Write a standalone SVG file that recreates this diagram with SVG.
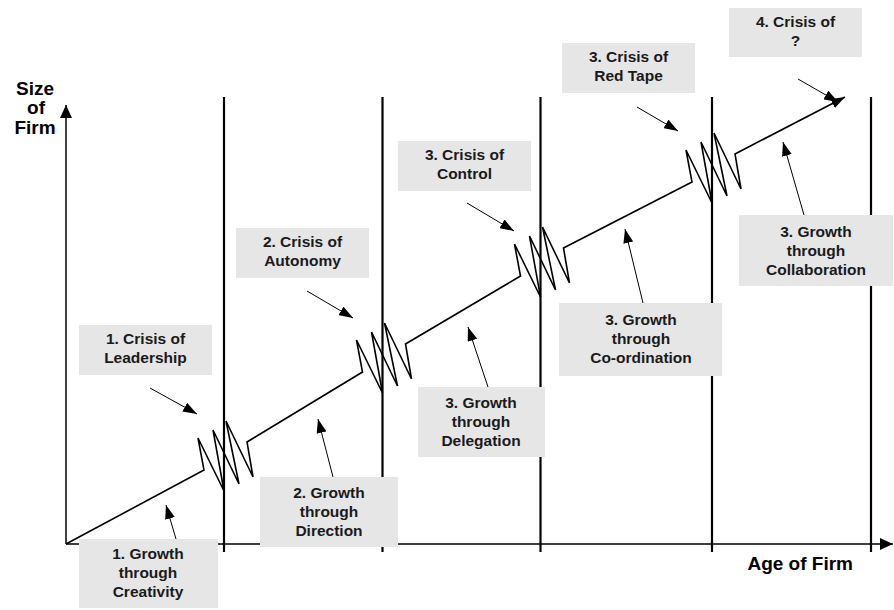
<svg xmlns="http://www.w3.org/2000/svg" width="894" height="610" viewBox="0 0 894 610">
<style>
.box{fill:#e6e6e7;stroke:none}
.lbl{font-family:"Liberation Sans",Arial,sans-serif;font-weight:bold;font-size:15.5px;fill:#1a1a1a;text-anchor:middle}
.ax{font-family:"Liberation Sans",Arial,sans-serif;font-weight:bold;font-size:19px;fill:#000}
.vline{stroke:#000;stroke-width:2.2;fill:none}
.growth{stroke:#000;stroke-width:1.6;fill:none;stroke-linejoin:miter}
.arr{stroke:#000;stroke-width:1;fill:none;marker-end:url(#head)}
.axis{stroke:#000;stroke-width:1.5;fill:none}
</style>
<defs>
<marker id="head" viewBox="0 0 14 10" refX="14" refY="5" markerWidth="14" markerHeight="10" markerUnits="userSpaceOnUse" orient="auto">
<path d="M0,0 L14,5 L0,10 z" fill="#000"/>
</marker>
<marker id="axhead" viewBox="0 0 13 12" refX="13" refY="6" markerWidth="13" markerHeight="12" markerUnits="userSpaceOnUse" orient="auto">
<path d="M0,0 L13,6 L0,12 z" fill="#000"/>
</marker>
</defs>
<rect width="894" height="610" fill="#fff"/>
<g id="axes">
<line class="axis" x1="66" y1="544" x2="66" y2="105" marker-end="url(#axhead)"/>
<line class="axis" x1="66" y1="544" x2="893" y2="544" marker-end="url(#axhead)"/>
<text class="ax" x="35" y="95" text-anchor="middle">Size</text>
<text class="ax" x="36" y="114" text-anchor="middle">of</text>
<text class="ax" x="35" y="134" text-anchor="middle">Firm</text>
<text class="ax" x="853" y="570" text-anchor="end">Age of Firm</text>
</g>
<g id="stage-lines">
<line class="vline" x1="224" y1="97" x2="224" y2="552"/>
<line class="vline" x1="382.5" y1="97" x2="382.5" y2="552"/>
<line class="vline" x1="540.5" y1="97" x2="540.5" y2="552"/>
<line class="vline" x1="712" y1="97" x2="712" y2="552"/>
<line class="vline" x1="871" y1="97" x2="871" y2="552"/>
</g>
<g id="connectors">
<path class="growth" marker-end="url(#head)" d="M66,544 L204,470 L198,438 L224,491 L213,430 L239,484 L226,421 L253,477 L247,442 L362.5,372 L356.5,340 L382.5,393 L371.5,332 L397.5,386 L384.5,323 L411.5,379 L405.5,344 L520.5,276 L514.5,244 L540.5,297 L529.5,236 L555.5,290 L542.5,227 L569.5,283 L563.5,248 L692,182 L686,150 L712,203 L701,142 L727,196 L714,133 L741,189 L735,154 L845,97"/>
<line class="arr" x1="150" y1="388" x2="197" y2="414"/>
<line class="arr" x1="307" y1="291" x2="353" y2="318"/>
<line class="arr" x1="467" y1="203" x2="514" y2="231"/>
<line class="arr" x1="637" y1="107" x2="678" y2="131"/>
<line class="arr" x1="798" y1="79" x2="838" y2="102"/>
<line class="arr" x1="176" y1="539" x2="166" y2="505"/>
<line class="arr" x1="333" y1="477" x2="318" y2="419"/>
<line class="arr" x1="488" y1="387" x2="468" y2="327"/>
<line class="arr" x1="643" y1="303" x2="625" y2="229"/>
<line class="arr" x1="804" y1="215" x2="783" y2="142"/>
</g>
<g id="crisis1">
<rect class="box" x="79" y="325" width="133" height="50"/>
<text class="lbl" x="145.5" y="344">1. Crisis of</text>
<text class="lbl" x="145.5" y="363">Leadership</text>
</g>
<g id="crisis2">
<rect class="box" x="236" y="228" width="133" height="50"/>
<text class="lbl" x="302.5" y="247">2. Crisis of</text>
<text class="lbl" x="302.5" y="266">Autonomy</text>
</g>
<g id="crisis3">
<rect class="box" x="398" y="141" width="133" height="50"/>
<text class="lbl" x="464.5" y="160">3. Crisis of</text>
<text class="lbl" x="464.5" y="179">Control</text>
</g>
<g id="crisis4">
<rect class="box" x="562" y="43" width="133" height="50"/>
<text class="lbl" x="628.5" y="62">3. Crisis of</text>
<text class="lbl" x="628.5" y="81">Red Tape</text>
</g>
<g id="crisis5">
<rect class="box" x="729" y="8" width="133" height="49"/>
<text class="lbl" x="795.5" y="27">4. Crisis of</text>
<text class="lbl" x="795.5" y="46">?</text>
</g>
<g id="growth1">
<rect class="box" x="79" y="539" width="139" height="69"/>
<text class="lbl" x="148" y="559">1. Growth</text>
<text class="lbl" x="148" y="578">through</text>
<text class="lbl" x="148" y="597">Creativity</text>
</g>
<g id="growth2">
<rect class="box" x="260" y="477" width="138" height="70"/>
<text class="lbl" x="329" y="498">2. Growth</text>
<text class="lbl" x="329" y="517">through</text>
<text class="lbl" x="329" y="536">Direction</text>
</g>
<g id="growth3">
<rect class="box" x="418" y="387" width="127" height="70"/>
<text class="lbl" x="481" y="408">3. Growth</text>
<text class="lbl" x="481" y="427">through</text>
<text class="lbl" x="481" y="446">Delegation</text>
</g>
<g id="growth4">
<rect class="box" x="559" y="303" width="163" height="73"/>
<text class="lbl" x="641" y="325">3. Growth</text>
<text class="lbl" x="641" y="344">through</text>
<text class="lbl" x="641" y="363">Co-ordination</text>
</g>
<g id="growth5">
<rect class="box" x="739" y="215" width="154" height="71"/>
<text class="lbl" x="816" y="237">3. Growth</text>
<text class="lbl" x="816" y="256">through</text>
<text class="lbl" x="816" y="275">Collaboration</text>
</g>
</svg>
